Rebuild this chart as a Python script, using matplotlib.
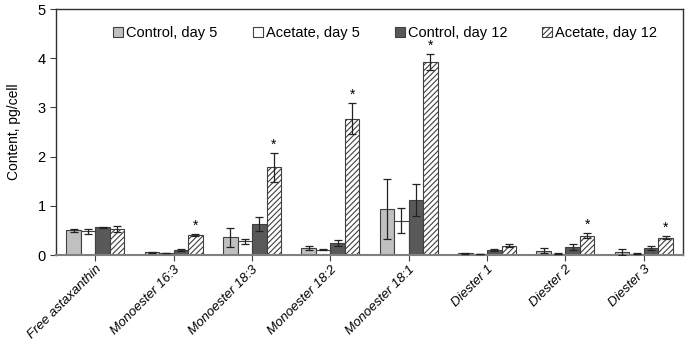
import matplotlib.pyplot as plt
import numpy as np

plt.rcParams['font.family'] = ['Liberation Sans', 'DejaVu Sans']

categories = ['Free astaxanthin', 'Monoester 16:3', 'Monoester 18:3', 'Monoester 18:2',
              'Monoester 18:1', 'Diester 1', 'Diester 2', 'Diester 3']
series = ['Control, day 5', 'Acetate, day 5', 'Control, day 12', 'Acetate, day 12']

ctrl5 = [0.50, 0.06, 0.36, 0.14, 0.93, 0.04, 0.09, 0.07]
ctrl5_err = [0.03, 0.01, 0.19, 0.04, 0.61, 0.01, 0.05, 0.06]
acet5 = [0.48, 0.04, 0.28, 0.11, 0.70, 0.02, 0.03, 0.03]
acet5_err = [0.05, 0.005, 0.05, 0.01, 0.26, 0.005, 0.005, 0.005]
ctrl12 = [0.56, 0.11, 0.63, 0.25, 1.12, 0.10, 0.17, 0.14]
ctrl12_err = [0.01, 0.02, 0.15, 0.06, 0.32, 0.02, 0.06, 0.04]
acet12 = [0.53, 0.40, 1.78, 2.77, 3.93, 0.19, 0.39, 0.35]
acet12_err = [0.07, 0.02, 0.30, 0.31, 0.16, 0.03, 0.05, 0.03]
signif = [False, True, True, True, True, False, True, True]

values = [ctrl5, acet5, ctrl12, acet12]
errors = [ctrl5_err, acet5_err, ctrl12_err, acet12_err]
faces = ['#c0c0c0', 'white', '#595959', 'white']
hatches = [None, None, None, '//////']

fig = plt.figure(figsize=(6.85, 3.47), dpi=100)
ax = fig.add_axes([0.082, 0.265, 0.915, 0.709])

x = np.arange(len(categories))
w = 0.185
plt.rcParams['hatch.color'] = '#505050'
plt.rcParams['hatch.linewidth'] = 0.8
for i in range(4):
    pos = x + (i - 1.5) * w
    ax.bar(pos, values[i], w, color=faces[i], edgecolor='#404040', linewidth=0.8,
           hatch=hatches[i], label=series[i], zorder=2)
    ax.errorbar(pos, values[i], yerr=errors[i], fmt='none', ecolor='#222222',
                elinewidth=0.9, capsize=3, capthick=0.9, zorder=3)

for j in range(len(categories)):
    if signif[j]:
        ax.text(x[j] + 1.5 * w, acet12[j] + acet12_err[j] + 0.17, '*',
                ha='center', va='center', fontsize=10)

ax.set_xlim(-0.5, len(categories) - 0.5)
ax.set_ylim(0, 5)
ax.set_yticks([0, 1, 2, 3, 4, 5])
ax.set_xticks(x)
ax.set_xticklabels(categories, rotation=45, ha='right', rotation_mode='anchor',
                   fontstyle='italic', fontsize=9.5)
ax.tick_params(axis='y', labelsize=10.5, length=4, direction='out', color='#404040')
ax.tick_params(axis='x', length=4, direction='out', color='#404040', pad=2)
ax.set_ylabel('Content, pg/cell', fontsize=10, labelpad=12)
for s in ax.spines.values():
    s.set_color('#303030')
    s.set_linewidth(1.0)
ax.spines['bottom'].set_color('#808080')
ax.spines['bottom'].set_linewidth(1.5)

ax.legend(loc='upper center', bbox_to_anchor=(0.525, 0.985), ncol=4, frameon=False,
          fontsize=10.5, handlelength=0.7, handleheight=0.7, handletextpad=0.2,
          columnspacing=2.4)

fig.savefig('out.png', dpi=100)
